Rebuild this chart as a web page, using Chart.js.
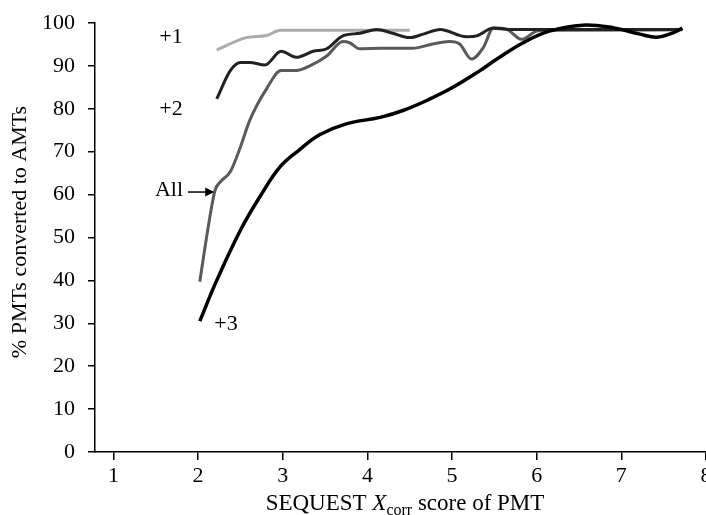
<!DOCTYPE html>
<html>
<head>
<meta charset="utf-8">
<script src="https://cdn.jsdelivr.net/npm/chart.js@4"></script>
<style>
  html, body { margin: 0; padding: 0; background: #fff; }
</style>
</head>
<body>
<canvas id="chart" width="706" height="515"></canvas>
<script>
const xTicks = [1, 2, 3, 4, 5, 6, 7, 8];

const plus1X = [2.22, 2.57, 2.81, 2.97, 3.44, 3.91, 4.50];
const plus1Y = [93.7, 96.6, 97.1, 98.3, 98.3, 98.3, 98.3];

const plus2X = [2.22, 2.38, 2.50, 2.61, 2.79, 2.98, 3.16, 3.36, 3.52, 3.71, 3.91, 4.11, 4.30, 4.50, 4.66, 4.86, 5.17, 5.29, 5.48, 5.68, 7.72];
const plus2Y = [82.3, 88.9, 90.8, 90.8, 90.2, 93.4, 92.0, 93.4, 94.0, 97.0, 97.6, 98.5, 97.6, 96.6, 97.4, 98.5, 96.8, 97.0, 98.8, 98.5, 98.5];

const allX = [2.02, 2.12, 2.20, 2.26, 2.38, 2.50, 2.61, 2.81, 2.98, 3.16, 3.32, 3.52, 3.71, 3.79, 3.91, 4.15, 4.54, 4.77, 4.97, 5.09, 5.23, 5.37, 5.49, 5.65, 5.82, 6.00, 6.12, 7.72];
const allY = [39.7, 52.5, 61.0, 62.9, 65.3, 71.1, 77.3, 84.7, 88.9, 88.9, 90.0, 92.3, 95.7, 95.4, 94.0, 94.1, 94.1, 95.1, 95.7, 95.1, 91.6, 94.3, 98.9, 98.5, 96.2, 98.1, 98.3, 98.4];

const plus3X = [2.02, 2.22, 2.50, 2.73, 2.97, 3.20, 3.44, 3.75, 4.15, 4.42, 4.74, 5.01, 5.33, 5.53, 5.84, 6.15, 6.54, 6.90, 7.22, 7.42, 7.61, 7.72];
const plus3Y = [30.5, 40.0, 51.7, 59.5, 66.5, 70.5, 74.0, 76.5, 78.0, 79.6, 82.3, 85.0, 88.9, 91.6, 95.4, 98.1, 99.5, 98.9, 97.4, 96.7, 97.7, 98.8];

const toPoints = (xs, ys) => xs.map((v, i) => ({ x: v, y: ys[i] }));

const serif = '"Liberation Serif", "Times New Roman", serif';

// curve labels, in data coordinates
const curveLabels = [
  { text: '+1', x: 1.68, y: 96.7 },
  { text: '+2', x: 1.68, y: 80.0 },
  { text: 'All', x: 1.656, y: 61.1 },
  { text: '+3', x: 2.33, y: 29.8 }
];

const extras = {
  id: 'extras',
  afterDraw(chart) {
    const ctx = chart.ctx;
    const xs = chart.scales.x, ys = chart.scales.y;
    ctx.save();
    ctx.fillStyle = '#000';
    ctx.strokeStyle = '#000';
    ctx.font = '22px ' + serif;
    ctx.textAlign = 'center';
    ctx.textBaseline = 'middle';
    curveLabels.forEach(l => {
      ctx.fillText(l.text, xs.getPixelForValue(l.x), ys.getPixelForValue(l.y));
    });

    // arrow pointing at the All curve
    const ax0 = xs.getPixelForValue(1.88), ax1 = xs.getPixelForValue(2.19);
    const ay = ys.getPixelForValue(60.6);
    ctx.lineWidth = 1.5;
    ctx.beginPath();
    ctx.moveTo(ax0, ay);
    ctx.lineTo(ax1 - 6, ay);
    ctx.stroke();
    ctx.beginPath();
    ctx.moveTo(ax1, ay);
    ctx.lineTo(ax1 - 9, ay - 4.5);
    ctx.lineTo(ax1 - 9, ay + 4.5);
    ctx.closePath();
    ctx.fill();

    // y axis title
    ctx.save();
    ctx.translate(20, 232);
    ctx.rotate(-Math.PI / 2);
    ctx.fillText('% PMTs converted to AMTs', 0, 0);
    ctx.restore();

    // x axis title with italic X and subscript corr
    const parts = [
      { t: 'SEQUEST ', f: '23px ' + serif, dy: 0 },
      { t: 'X', f: 'italic 23px ' + serif, dy: 0 },
      { t: 'corr', f: '16px ' + serif, dy: 5 },
      { t: ' score of PMT', f: '23px ' + serif, dy: 0 }
    ];
    let total = 0;
    parts.forEach(p => { ctx.font = p.f; p.w = ctx.measureText(p.t).width; total += p.w; });
    let cx = 405 - total / 2;
    ctx.textAlign = 'left';
    ctx.textBaseline = 'alphabetic';
    parts.forEach(p => {
      ctx.font = p.f;
      ctx.fillText(p.t, cx, 510 + p.dy);
      cx += p.w;
    });
    ctx.restore();
  }
};

new Chart(document.getElementById('chart').getContext('2d'), {
  type: 'line',
  data: {
    datasets: [
      { label: '+3', data: toPoints(plus3X, plus3Y), borderColor: '#000', borderWidth: 3.5, tension: 0.4 },
      { label: '+2', data: toPoints(plus2X, plus2Y), borderColor: '#222', borderWidth: 3, cubicInterpolationMode: 'monotone' },
      { label: 'All', data: toPoints(allX, allY), borderColor: '#5a5a5a', borderWidth: 3, cubicInterpolationMode: 'monotone' },
      { label: '+1', data: toPoints(plus1X, plus1Y), borderColor: '#ababab', borderWidth: 3, cubicInterpolationMode: 'monotone' }
    ]
  },
  options: {
    responsive: false,
    animation: false,
    events: [],
    layout: { padding: { top: 23, left: 0, right: 0, bottom: 0 } },
    elements: { point: { radius: 0 } },
    plugins: { legend: { display: false }, tooltip: { enabled: false } },
    scales: {
      x: {
        type: 'linear',
        min: 0.782,
        max: 8,
        afterBuildTicks: s => { s.ticks = xTicks.map(v => ({ value: v })); },
        afterFit: s => { s.height = 63; s.paddingLeft = 0; s.paddingRight = 0; },
        grid: { drawOnChartArea: false, drawTicks: true, tickLength: 8, color: '#000', lineWidth: 1.5 },
        border: { display: true, color: '#000', width: 1.5 },
        ticks: { color: '#000', font: { family: serif, size: 22 }, padding: 3, maxRotation: 0, autoSkip: false }
      },
      y: {
        min: 0,
        max: 100,
        afterFit: s => { s.width = 95; s.paddingTop = 0; s.paddingBottom = 0; },
        grid: { drawOnChartArea: false, drawTicks: true, tickLength: 7, color: '#000', lineWidth: 1.5 },
        border: { display: true, color: '#000', width: 1.5 },
        ticks: { stepSize: 10, color: '#000', font: { family: serif, size: 22 }, padding: 13 }
      }
    }
  },
  plugins: [extras]
});
</script>
</body>
</html>
